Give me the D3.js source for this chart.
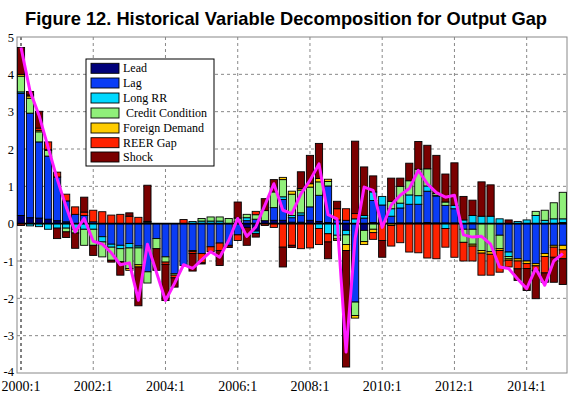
<!DOCTYPE html>
<html><head><meta charset="utf-8">
<script src="https://cdn.jsdelivr.net/npm/d3@7"></script>
<style>body{margin:0;background:#fff}svg{display:block}</style>
</head><body>
<svg id="c" width="576" height="398"></svg>
<script>
const quarters = ["2000:1","2000:2","2000:3","2000:4","2001:1","2001:2","2001:3","2001:4","2002:1","2002:2","2002:3","2002:4","2003:1","2003:2","2003:3","2003:4","2004:1","2004:2","2004:3","2004:4","2005:1","2005:2","2005:3","2005:4","2006:1","2006:2","2006:3","2006:4","2007:1","2007:2","2007:3","2007:4","2008:1","2008:2","2008:3","2008:4","2009:1","2009:2","2009:3","2009:4","2010:1","2010:2","2010:3","2010:4","2011:1","2011:2","2011:3","2011:4","2012:1","2012:2","2012:3","2012:4","2013:1","2013:2","2013:3","2013:4","2014:1","2014:2","2014:3","2014:4","2015:1"];
const tickLabels = ["2000:1","2002:1","2004:1","2006:1","2008:1","2010:1","2012:1","2014:1"];
const yTicks = [5,4,3,2,1,0,-1,-2,-3,-4];
const seriesNames = ["Lead","Lag","Long RR"," Credit Condition","Foreign Demand","REER Gap","Shock"];
const seriesColors = ["#00007a","#0a3cf5","#00d8ff","#90f07a","#ffcc00","#ff2200","#7a0000"];

const lead = [0.22,0.16,0.15,0.12,0.08,0.05,0,0,0,0,0,0,0,0,0,0,0,0,0,0,0,0,0,0,0.05,-0.1,-0.2,0.08,0.09,0.09,0.04,0.04,0.09,0.06,0.03,0,-0.18,0,-0.18,0.03,0.03,0,0.02,0.02,0.02,0.03,0.02,0.02,0.02,0,0.02,0,0,0,0,0,0,0,0,0,0.03];
const lag = [3.27,2.8,2.04,1.69,1.17,0.56,0.25,0.22,0.05,-0.35,-0.55,-0.58,-0.53,-0.6,-1.29,-0.4,-0.89,-1.34,-1.12,-0.72,-0.8,-0.62,-0.52,-0.58,-0.3,0.08,0.12,0,0.34,0.56,0.12,0.19,0.36,0.7,0.98,0.1,0.09,-2.1,0.15,0.59,0.47,0.2,0.4,0.5,0.5,0.84,0.72,0.47,0.38,-0.15,-0.15,0,0,-0.31,-0.76,-0.94,-1.0,-1.07,-0.8,-0.58,-0.58];
const longRR = [0.04,-0.06,-0.08,-0.15,-0.12,-0.12,-0.15,-0.15,-0.15,-0.14,-0.08,-0.09,-0.12,-0.05,0.04,0,0,0,0,0.06,0.07,0.07,0.07,0,0,0.08,-0.06,0,0,0.07,0.06,0.06,0,-0.13,-0.27,-0.31,-0.12,0.13,0.07,0.23,0.23,0.2,0.13,0.25,0.23,0.14,0.02,-0.13,0.09,0.1,0.2,0.2,0.2,0.13,-0.12,0.06,0.1,0.22,0.09,0.13,0.1];
const credit = [0.42,0.4,0.27,0.15,0,-0.1,-0.1,-0.43,-0.43,-0.4,-0.35,-0.35,-0.55,-0.45,-0.3,-0.27,-0.14,-0.04,0,0,0.07,0.11,0.11,0.14,0.1,0.09,0.12,0.27,0.42,0.46,0.57,0.61,0.53,0.36,0.12,-0.1,-0.26,-0.36,-0.3,-0.15,0,0.2,0.45,0.38,0.71,0.46,0.05,0.09,0,-0.35,-0.4,-0.72,-0.75,-0.36,-0.06,0,0,0.11,0.27,0.43,0.71];
const foreign = [0.05,0.06,0.04,0.03,0,0,0,0,0,0,0,0,-0.05,-0.06,0,0,0,0,0,-0.03,0,0,0,0,0,0,0,0,0,0.06,0.08,0.04,0.09,0.09,0.06,-0.04,-0.16,-0.07,-0.08,-0.09,0,-0.05,0,0,0,0,0,0,0,0,-0.05,-0.07,-0.07,-0.05,-0.04,-0.06,-0.07,-0.06,-0.08,-0.05,-0.12];
const reer = [-0.05,0.03,0.06,0.2,0.13,0.18,0.2,0.09,0.31,0.32,0.23,0.25,0.2,0.17,0.02,0,-0.06,-0.07,0.11,-0.05,-0.25,-0.13,-0.2,0,-0.15,0,0.09,-0.05,-0.1,-0.63,-0.58,-0.67,-0.65,-0.43,-0.22,0.3,0.31,0.14,0,-0.18,-0.45,-0.55,-0.51,-0.76,-0.78,-0.92,-0.94,-0.5,-0.9,-0.5,-0.4,-0.59,-0.56,-0.58,-0.18,-0.21,-0.13,-0.12,-0.44,-0.27,-0.24];
const shock = [0.72,0.09,0.45,0,-0.28,-0.15,-0.41,0.4,-0.27,0,-0.05,-0.36,0.09,-1.04,0.97,-0.58,-0.97,-0.25,0,-0.47,-0.03,0,-0.4,-0.06,0.43,-0.48,-0.1,0.32,0.33,-0.53,-0.06,0.45,0.76,0.94,-0.45,0.2,-3.12,1.94,1.3,0.43,-0.45,0.62,0.22,0.47,0.74,0.63,1.02,0.75,1.14,0.63,0.41,0.92,0.84,0,0.1,-0.31,-0.59,-0.76,-0.25,-0.67,-0.69];
const outputGap = [4.72,3.55,2.9,2.05,1.2,0.45,-0.22,0.14,-0.47,-0.55,-0.78,-1.1,-1.05,-2.05,-0.55,-1.3,-2.06,-1.6,-1.1,-1.2,-0.97,-0.75,-0.9,-0.45,0.14,-0.34,-0.09,0.49,1.07,0.36,0.27,0.8,1.16,1.6,0.24,0.13,-3.44,-0.4,0.98,0.89,-0.1,0.5,0.76,0.94,1.43,1.07,0.83,0.71,0.76,-0.3,-0.36,-0.34,-0.55,-1.16,-1.2,-1.48,-1.74,-1.2,-1.65,-1.0,-0.8];

const seriesData = [lead, lag, longRR, credit, foreign, reer, shock];
const rows = quarters.map((q,i)=>{const r={q:q,i:i}; seriesData.forEach((s,k)=>r[k]=s[i]); return r;});

const svg = d3.select("#c");
const L=17, R=567, T=37, B=373;
const x = d3.scaleLinear().domain([0, quarters.length-1]).range([21, 562.8]);
const y = d3.scaleLinear().domain([-4,5]).range([B,T]);
const bw = 7.2;

// title
svg.append("text").attr("x",286).attr("y",25).attr("text-anchor","middle")
  .attr("font-family","Liberation Sans, Arial, sans-serif").attr("font-weight","bold")
  .attr("font-size",18.5).attr("textLength",522).attr("lengthAdjust","spacingAndGlyphs")
  .text("Figure 12. Historical Variable Decomposition for Output Gap");

// grid
const g = svg.append("g");
g.selectAll("line.h").data(yTicks.filter(d=>d!==0&&d!==5&&d!==-4)).join("line")
  .attr("x1",L).attr("x2",R).attr("y1",d=>y(d)).attr("y2",d=>y(d))
  .attr("stroke","#888").attr("stroke-width",1).attr("stroke-dasharray","3,3");
g.selectAll("line.v").data(tickLabels).join("line")
  .attr("x1",(d)=>x(quarters.indexOf(d))).attr("x2",(d)=>x(quarters.indexOf(d)))
  .attr("y1",T).attr("y2",B)
  .attr("stroke",(d,i)=>i===0?"#000":"#888").attr("stroke-width",1).attr("stroke-dasharray","3,3");

// frame
svg.append("rect").attr("x",L).attr("y",T).attr("width",R-L).attr("height",B-T)
  .attr("fill","none").attr("stroke","#888").attr("stroke-width",1);

// stacked bars
const stack = d3.stack().keys(d3.range(seriesData.length)).offset(d3.stackOffsetDiverging);
const layers = stack(rows);
svg.append("g").selectAll("g").data(layers).join("g")
  .attr("fill",(d,k)=>seriesColors[k])
  .selectAll("rect").data(d=>d.filter(p=>p[1]!==p[0])).join("rect")
  .attr("x",p=>x(p.data.i)-bw/2).attr("width",bw)
  .attr("y",p=>y(Math.max(p[0],p[1]))).attr("height",p=>Math.abs(y(p[0])-y(p[1])))
  .attr("stroke","#000").attr("stroke-width",0.9);

// zero line
svg.append("line").attr("x1",L).attr("x2",R).attr("y1",y(0)).attr("y2",y(0))
  .attr("stroke","#000").attr("stroke-width",1.6);

// output gap line
svg.append("path").datum(outputGap)
  .attr("d",d3.line().x((d,i)=>x(i)).y(d=>y(d)))
  .attr("fill","none").attr("stroke","#ff1aff").attr("stroke-width",3).attr("stroke-linejoin","round");

// axes labels
svg.append("g").selectAll("text").data(yTicks).join("text")
  .attr("x",14).attr("y",d=>y(d)+(d===-4?3:4.5)).attr("text-anchor","end")
  .attr("font-family","Liberation Serif, Times New Roman, serif").attr("font-size",12.5)
  .text(d=>d);
svg.append("g").selectAll("text").data(tickLabels).join("text")
  .attr("x",d=>x(quarters.indexOf(d))).attr("y",391).attr("text-anchor","middle")
  .attr("font-family","Liberation Serif, Times New Roman, serif").attr("font-size",14)
  .text(d=>d);

// legend
const lg = svg.append("g");
lg.append("rect").attr("x",86).attr("y",59).attr("width",128).attr("height",107)
  .attr("fill","#fff").attr("stroke","#000").attr("stroke-width",1);
const ly = [68.3,83,98,113,128,142.7,157];
seriesNames.forEach((n,k)=>{
  lg.append("rect").attr("x",91).attr("y",ly[k]-5).attr("width",28).attr("height",10)
    .attr("fill",seriesColors[k]).attr("stroke","#000").attr("stroke-width",0.9);
  lg.append("text").attr("x",123).attr("y",ly[k]+4)
    .attr("font-family","Liberation Serif, Times New Roman, serif").attr("font-size",12)
    .attr("xml:space","preserve").style("white-space","pre").text(n);
});
</script>
</body></html>
